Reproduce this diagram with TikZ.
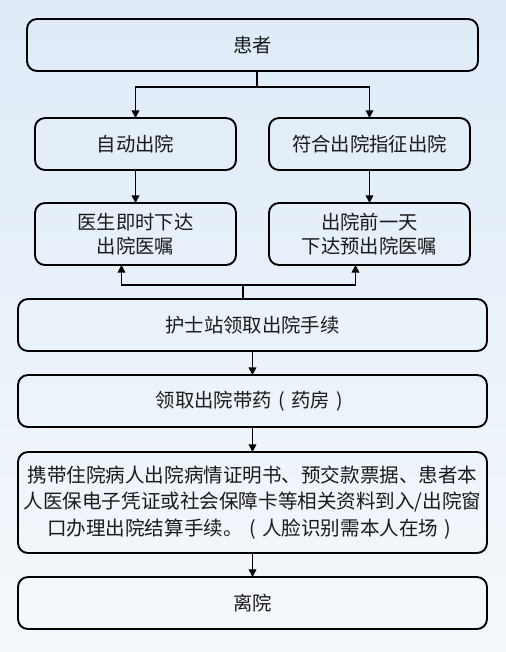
\documentclass[tikz,border=0pt]{standalone}
\usepackage{fontspec}
\newfontfamily\cjk{Noto Sans CJK SC}
\usetikzlibrary{arrows.meta, positioning, calc}

\definecolor{bgtop}{RGB}{222,235,247}
\definecolor{bgbottom}{RGB}{245,248,252}

% centred brackets
\newcommand{\cjklp}{\makebox[1em][c]{(}}
\newcommand{\cjkrp}{\makebox[1em][c]{)}}

\begin{document}
\begin{tikzpicture}[
        node distance=0.72cm,
        flowbox/.style={rectangle, draw=black, line width=1.6pt, outer sep=0pt, inner sep=2pt, rounded corners=0.3cm, align=center, text=black!90, font={\cjk\fontsize{16.5pt}{20.5pt}\selectfont}},
        wide/.style={flowbox, minimum width=14.07cm, minimum height=1.56cm},
        half/.style={flowbox, minimum width=6.03cm, minimum height=1.56cm},
        line/.style={line width=1.3pt, color=black},
        arrow/.style={-{Triangle[length=6.5pt, width=6.5pt]}, line width=1.3pt, color=black}
    ]

    % Background
    \fill[top color=bgtop, bottom color=bgbottom] (0,0) rectangle (15.18,-19.56);
    \useasboundingbox (0,0) rectangle (15.18,-19.56);

    % Patient
    \node[flowbox, minimum width=13.53cm, minimum height=1.56cm] (patient) at (7.575,-1.35) {患者};

    % Two ways out
    \node[half] (leaveL) [below=1.41cm of patient, xshift=-3.51cm] {自动出院};
    \node[half] (leaveR) [below=1.41cm of patient, xshift=3.51cm] {符合出院指征出院};

    % Orders
    \node[half, minimum height=1.86cm] (orderL) [below=0.99cm of leaveL] {医生即时下达\\出院医嘱};
    \node[half, minimum height=1.86cm] (orderR) [below=0.99cm of leaveR] {出院前一天\\下达预出院医嘱};

    % Procedures
    \node[wide] (nurse) [below=1.02cm of orderL, xshift=3.51cm] {护士站领取出院手续};
    \node[wide] (drug) [below=of nurse] {领取出院带药\cjklp 药房\cjkrp};
    \node[wide, minimum height=3.03cm, font={\cjk\fontsize{16.7pt}{22.3pt}\selectfont}] (settle) [below=0.75cm of drug]
        {携带住院病人出院病情证明书、预交款票据、患者本\\人医保电子凭证或社会保障卡等相关资料到入/出院窗\\口办理出院结算手续。\cjklp 人脸识别需本人在场\cjkrp};
    \node[wide] (exit) [below=of settle] {离院};

    % Connections
    \coordinate (split) at ($(patient.south)+(0.135,-0.48)$);
    \draw[line] (patient.south -| split) -- (split);
    \draw[arrow] (split) -| (leaveL.north);
    \draw[arrow] (split) -| (leaveR.north);

    \draw[arrow] (leaveL) -- (orderL);
    \draw[arrow] (leaveR) -- (orderR);

    \coordinate (join) at ($(nurse.north)+(-0.285,0.42)$);
    \draw[line] (join) -- (join |- nurse.north);
    \draw[arrow] (join) -| ([xshift=-0.42cm]orderL.south);
    \draw[arrow] (join) -| ([xshift=-0.42cm]orderR.south);

    \draw[arrow] (nurse) -- (drug);
    \draw[arrow] (drug) -- (settle);
    \draw[arrow] (settle) -- (exit);

\end{tikzpicture}
\end{document}
